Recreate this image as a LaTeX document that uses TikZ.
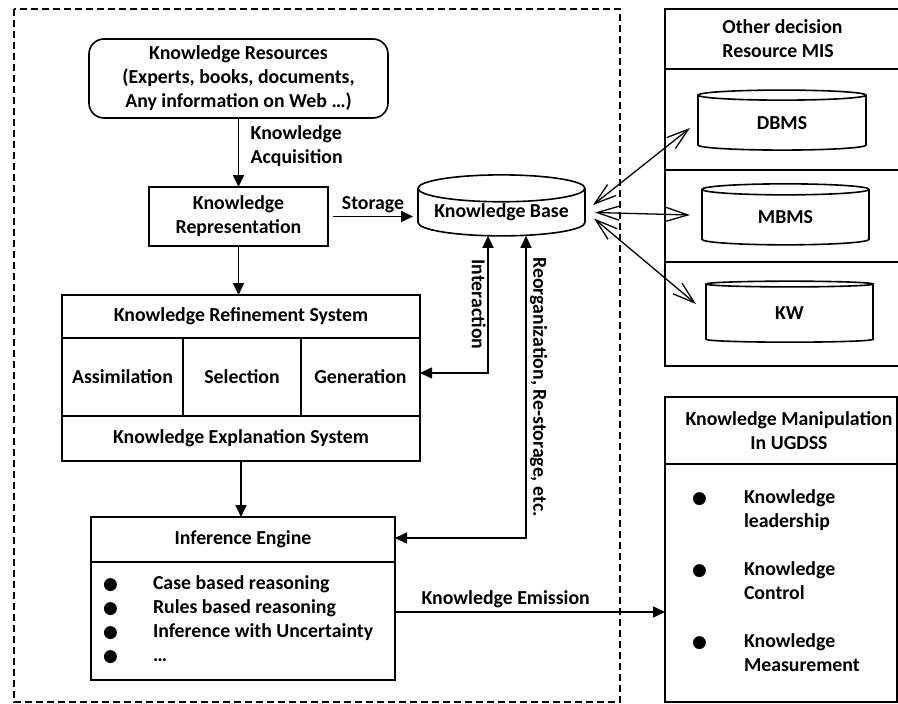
\documentclass[tikz,border=0pt]{standalone}
\usepackage{fontspec}
\setmainfont{Carlito}
\newfontfamily\symfont{DejaVu Sans}
\usetikzlibrary{arrows.meta,positioning,shapes.geometric}
\newcommand{\blt}{{\symfont\fontsize{17}{17}\selectfont ●}}

\begin{document}
\begin{tikzpicture}[x=1pt,y=-1pt,font=\fontsize{19.8}{24}\selectfont\bfseries,line width=1.6pt,
  cell/.style={draw,outer sep=0pt,inner sep=0pt,align=center},
  db/.style={draw,cylinder,shape border rotate=90,aspect=0.2,outer sep=0pt,inner sep=0pt},
  arw/.style={-{Triangle[length=12pt,width=11pt]}},
  arw2/.style={{Triangle[length=12pt,width=11pt]}-{Triangle[length=12pt,width=11pt]}},
  dbl/.style={{Straight Barb[length=22pt,width=14pt]}-{Straight Barb[length=22pt,width=14pt]},line width=1.3pt}]
  \useasboundingbox (0,0) rectangle (898,704);
  \draw[dash pattern=on 7pt off 4pt,line width=1.3pt] (14,9) rectangle (620,702);
  \node[cell,rounded corners=15pt,minimum width=299,minimum height=79] (res) at (238.5,78.5)
    {Knowledge Resources\\(Experts, books, documents,\\Any information on Web …)};
  \node[cell,minimum width=179,minimum height=59] (rep) at (238.5,216.5) {Knowledge\\Representation};
  \node[db,minimum width=167,minimum height=61] (kb) at (501.5,212.5) {Knowledge Base};
  \node[cell,minimum width=358,minimum height=43] (refT) at (241,316.5) {Knowledge Refinement System};
  \node[cell,minimum width=121,minimum height=78,anchor=north west] (refA) at (refT.south west) {Assimilation};
  \node[cell,minimum width=118,minimum height=78,right=0pt of refA] (refS) {Selection};
  \node[cell,minimum width=119,minimum height=78,right=0pt of refS] (refG) {Generation};
  \node[cell,minimum width=358,minimum height=45,anchor=north west] (refE) at (refA.south west) {Knowledge Explanation System};
  \node[cell,minimum width=304,minimum height=45] (infT) at (243,539.5) {Inference Engine};
  \node[cell,minimum width=304,minimum height=118,below=0pt of infT] (infB)
    {\makebox[280pt][l]{\begin{tabular}{@{}p{50pt}@{}l@{}}
      \blt & Case based reasoning\\
      \blt & Rules based reasoning\\
      \blt & Inference with Uncertainty\\
      \blt & …
    \end{tabular}}};
  \node[cell,minimum width=235,minimum height=60,align=left] (misT) at (782.5,39) {Other decision\\Resource MIS};
  \node[cell,minimum width=235,minimum height=101,below=0pt of misT] (misA) {};
  \node[cell,minimum width=235,minimum height=92,below=0pt of misA] (misB) {};
  \node[cell,minimum width=235,minimum height=104,below=0pt of misB] (misC) {};
  \node[db,minimum width=168,minimum height=60] (dbms) at (782,123) {DBMS};
  \node[db,minimum width=167,minimum height=61] (mbms) at (785.5,217.5) {MBMS};
  \node[db,minimum width=167,minimum height=61] (kw) at (789.5,313.5) {KW};
  \node[cell,minimum width=232,minimum height=67,
    label={[align=center,xshift=8pt]center:Knowledge Manipulation\\In UGDSS}] (kmT) at (781,430.5) {};
  \node[cell,minimum width=232,minimum height=238,below=0pt of kmT] (kmB)
    {\makebox[178pt][l]{\begin{tabular}{@{}p{52pt}@{}l@{}}
      \blt & Knowledge\\
          & leadership\\[24pt]
      \blt & Knowledge\\
          & Control\\[24pt]
      \blt & Knowledge\\
          & Measurement
    \end{tabular}}};
  \coordinate (ia) at (488,373);
  \coordinate (ra) at (526,538);
  \coordinate (em) at (530,612);
  \draw[arw] (res) -- node[right,align=left,xshift=8pt,yshift=6pt] {Knowledge\\Acquisition} (rep);
  \draw[arw] (rep.south) -- (rep.south |- refT.north);
  \draw[arw,shorten <=5pt,shorten >=5pt] (rep.east) -- node[above] {Storage} (rep.east -| kb.west);
  \draw[arw] (refE.south) -- (refE.south |- infT.north);
  \draw[arw2] (refG.east |- ia) -| node[pos=0.75,rotate=-90,anchor=north,yshift=2pt] {Interaction} (kb.south -| ia);
  \draw[arw2] (infT.east |- ra) -| node[pos=0.75,rotate=-90,anchor=south] {Reorganization, Re-storage, etc.} (kb.south -| ra);
  \draw[arw] (infB.east |- em) -- node[above,pos=0.41] {Knowledge Emission} (kmB.west |- em);
  \draw[dbl] ([xshift=8pt,yshift=7.5pt]kb.east) -- ([xshift=-8pt,yshift=-5pt]dbms.west);
  \draw[dbl] ([xshift=10pt]kb.east) -- ([xshift=-12pt,yshift=2.5pt]mbms.west);
  \draw[dbl] ([xshift=9pt,yshift=-6pt]kb.east) -- ([xshift=-10pt,yshift=9.5pt]kw.west);
\end{tikzpicture}
\end{document}
